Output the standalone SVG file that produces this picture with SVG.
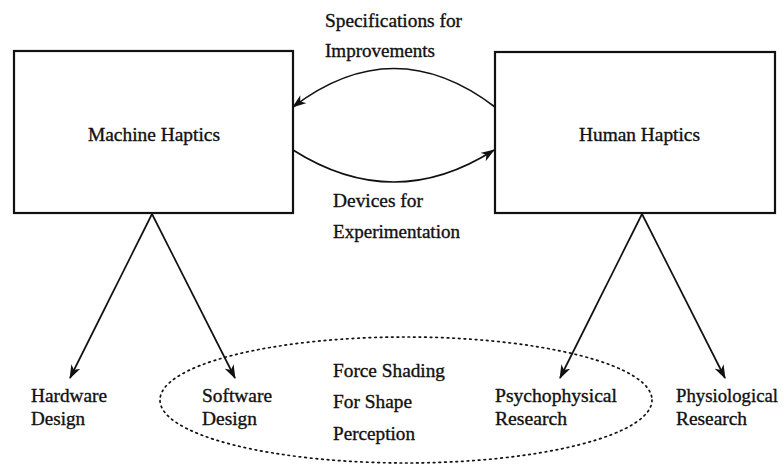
<svg xmlns="http://www.w3.org/2000/svg" width="783" height="466" viewBox="0 0 783 466">
<defs>
<marker id="arr" viewBox="0 0 14 10" refX="13" refY="5" markerWidth="14" markerHeight="10" markerUnits="userSpaceOnUse" orient="auto">
<path d="M0,0 L14,5 L0,10 L4,5 Z" fill="#111"/>
</marker>
</defs>
<style>
text{font-family:"Liberation Serif","Times New Roman",serif;font-size:18.5px;fill:#111;stroke:#111;stroke-width:0.35}
.box{fill:#fff;stroke:#111;stroke-width:2.2}
.edge{fill:none;stroke:#111;stroke-width:1.7;marker-end:url(#arr)}
.group{fill:none;stroke:#111;stroke-width:1.7;stroke-dasharray:1.6 4;stroke-linecap:round}
</style>
<rect width="783" height="466" fill="#fff"/>
<g id="focus-group">
<ellipse class="group" cx="406" cy="400" rx="246" ry="63"/>
<text x="333" y="377" textLength="112" lengthAdjust="spacingAndGlyphs">Force Shading</text>
<text x="333" y="408" textLength="79" lengthAdjust="spacingAndGlyphs">For Shape</text>
<text x="333" y="440" textLength="82" lengthAdjust="spacingAndGlyphs">Perception</text>
</g>
<g id="connectors">
<path class="edge" d="M495,107 Q394,30 293,107"/>
<path class="edge" d="M293,150 Q394,214 494,150"/>
<path class="edge" d="M152,214 L70,378"/>
<path class="edge" d="M152,214 L235,378"/>
<path class="edge" d="M642,214 L560,378"/>
<path class="edge" d="M642,214 L725,378"/>
<text x="325" y="27" textLength="137" lengthAdjust="spacingAndGlyphs">Specifications for</text>
<text x="325" y="57" textLength="110" lengthAdjust="spacingAndGlyphs">Improvements</text>
<text x="333" y="207" textLength="90" lengthAdjust="spacingAndGlyphs">Devices for</text>
<text x="333" y="238" textLength="127" lengthAdjust="spacingAndGlyphs">Experimentation</text>
</g>
<g id="machine-haptics">
<rect class="box" x="14" y="51" width="279" height="162"/>
<text x="88" y="141" textLength="132" lengthAdjust="spacingAndGlyphs">Machine Haptics</text>
</g>
<g id="human-haptics">
<rect class="box" x="495" y="52" width="280" height="161"/>
<text x="579" y="141" textLength="121" lengthAdjust="spacingAndGlyphs">Human Haptics</text>
</g>
<g id="hardware-design">
<text x="31" y="402" textLength="76" lengthAdjust="spacingAndGlyphs">Hardware</text>
<text x="31" y="425" textLength="54" lengthAdjust="spacingAndGlyphs">Design</text>
</g>
<g id="software-design">
<text x="202" y="402" textLength="70" lengthAdjust="spacingAndGlyphs">Software</text>
<text x="202" y="425" textLength="55" lengthAdjust="spacingAndGlyphs">Design</text>
</g>
<g id="psychophysical-research">
<text x="495" y="402" textLength="122" lengthAdjust="spacingAndGlyphs">Psychophysical</text>
<text x="495" y="425" textLength="72" lengthAdjust="spacingAndGlyphs">Research</text>
</g>
<g id="physiological-research">
<text x="676" y="402" textLength="102" lengthAdjust="spacingAndGlyphs">Physiological</text>
<text x="676" y="425" textLength="71" lengthAdjust="spacingAndGlyphs">Research</text>
</g>
</svg>
